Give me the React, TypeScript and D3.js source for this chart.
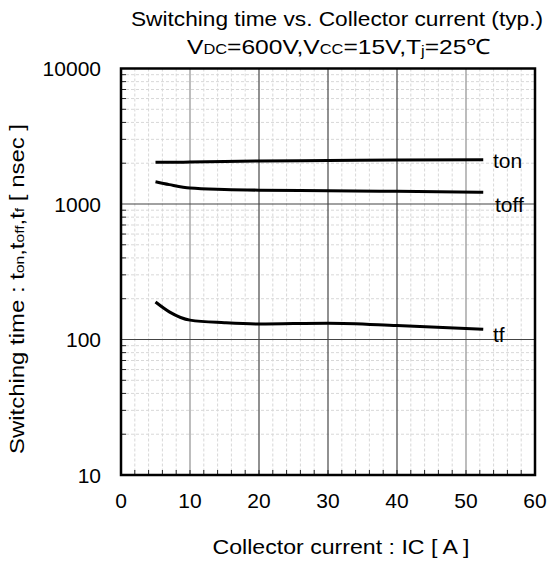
import React from "react";
import * as d3 from "d3";

const ic = [5, 7, 10, 15, 20, 30, 40, 52.5];
const ton = [2030, 2030, 2040, 2060, 2075, 2090, 2110, 2120];
const toff = [1460, 1390, 1310, 1280, 1265, 1255, 1240, 1220];
const tf = [189, 160, 139, 133, 130, 132, 127, 119];
const xTicks = [0, 10, 20, 30, 40, 50, 60];
const yTicks = [10, 100, 1000, 10000];
const seriesLabels = ["ton", "toff", "tf"];

const W = 550, H = 562;
const L = 121, R = 535, T = 68.5, B = 475;

export default function App() {
  const x = d3.scaleLinear().domain([0, 60]).range([L, R]);
  const y = d3.scaleLog().domain([10, 10000]).range([B, T]);
  const line = d3.line<[number, number]>().x(d => x(d[0])).y(d => y(d[1])).curve(d3.curveMonotoneX);
  const series = [ton, toff, tf];
  const labelPos = [
    { dx: 493, v: ton[ton.length - 1], dy: 8 },
    { dx: 495, v: 1000, dy: 8 },
    { dx: 493, v: 100, dy: 2 },
  ];
  const minorY: number[] = [];
  for (let d = 10; d < 10000; d *= 10) for (let k = 2; k <= 9; k++) minorY.push(d * k);
  const minorX: number[] = [];
  for (let v = 2; v < 60; v += 2) if (v % 10 !== 0) minorX.push(v);
  const font = "'Liberation Sans', Arial, sans-serif";
  return (
    <svg width={W} height={H} style={{ position: "absolute", left: 0, top: 0 }} fontFamily={font}>
      <rect width={W} height={H} fill="#fff" />
      {minorX.map(v => (
        <line key={"mx" + v} x1={x(v)} x2={x(v)} y1={T} y2={B} stroke="#d8d8d8" strokeDasharray="3,2" strokeWidth={1} />
      ))}
      {minorY.map(v => (
        <line key={"my" + v} x1={L} x2={R} y1={y(v)} y2={y(v)} stroke="#d8d8d8" strokeDasharray="3,2" strokeWidth={1} />
      ))}
      {xTicks.slice(1, -1).map(v => (
        <line key={"gx" + v} x1={x(v)} x2={x(v)} y1={T} y2={B} stroke={v === 10 || v === 50 ? "#999" : "#555"} strokeWidth={1.3} />
      ))}
      {yTicks.slice(1, -1).map(v => (
        <line key={"gy" + v} x1={L} x2={R} y1={y(v)} y2={y(v)} stroke="#444" strokeWidth={1.2} />
      ))}
      {minorY.map(v => (
        <line key={"ty" + v} x1={L} x2={L + 5} y1={y(v)} y2={y(v)} stroke="#222" strokeWidth={1} />
      ))}
      {minorX.concat(xTicks.slice(1, -1)).map(v => (
        <line key={"tx" + v} x1={x(v)} x2={x(v)} y1={B} y2={B - 5} stroke="#222" strokeWidth={1} />
      ))}
      {series.map((s, i) => (
        <path key={"s" + i} d={line(ic.map((v, j) => [v, s[j]] as [number, number])) || ""} fill="none" stroke="#000" strokeWidth={3} />
      ))}
      {seriesLabels.map((lab, i) => (
        <text key={lab} x={labelPos[i].dx} y={y(labelPos[i].v) + labelPos[i].dy} fontSize={21} fill="#000">{lab}</text>
      ))}
      <rect x={L} y={T} width={R - L} height={B - T} fill="none" stroke="#000" strokeWidth={2.5} />
      {yTicks.map(v => (
        <text key={"yl" + v} x={101} y={y(v) + 7.5} textAnchor="end" fontSize={21}>{v}</text>
      ))}
      {xTicks.map(v => (
        <text key={"xl" + v} x={x(v)} y={508} textAnchor="middle" fontSize={21}>{v}</text>
      ))}
      <text x={337} y={26} textAnchor="middle" fontSize={21} textLength={412} lengthAdjust="spacingAndGlyphs">Switching time vs. Collector current (typ.)</text>
      <text x={339} y={54} textAnchor="middle" fontSize={21} textLength={304} lengthAdjust="spacingAndGlyphs">
        V<tspan fontSize={14}>DC</tspan>=600V,V<tspan fontSize={14}>CC</tspan>=15V,T<tspan fontSize={14} dy={2}>j</tspan><tspan dy={-2}>=25℃</tspan>
      </text>
      <text x={341} y={554} textAnchor="middle" fontSize={21} textLength={257} lengthAdjust="spacingAndGlyphs">Collector current : IC [ A ]</text>
      <text transform={`translate(24,289) rotate(-90)`} textAnchor="middle" fontSize={20} textLength={330} lengthAdjust="spacingAndGlyphs">
        Switching time : t<tspan fontSize={13}>on</tspan>,t<tspan fontSize={13}>off</tspan>,t<tspan fontSize={13}>f</tspan> [ nsec ]
      </text>
    </svg>
  );
}
